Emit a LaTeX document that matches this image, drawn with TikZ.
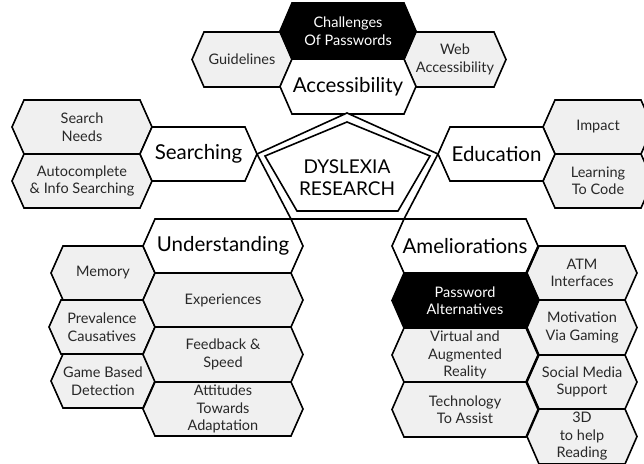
\documentclass[tikz,border=0pt]{standalone}
\usepackage{fontspec}
\setmainfont{Lato}
\definecolor{cellgray}{RGB}{240,240,240}
\definecolor{inkgray}{RGB}{40,40,40}
\tikzset{
  graycell/.style={draw=black, line width=1.6pt, fill=cellgray, line join=miter},
  whitecell/.style={draw=black, line width=1.6pt, fill=white, line join=miter},
  blackcell/.style={draw=black, line width=1.6pt, fill=black, line join=miter},
  smalltext/.style={inner sep=0pt, align=center, text=inkgray, font=\fontsize{14.5}{17.5}\selectfont},
  whitetext/.style={inner sep=0pt, align=center, text=white, font=\fontsize{14.5}{17.5}\selectfont},
  bigtext/.style={inner sep=0pt, align=center, text=black, font=\fontsize{20.5}{24}\selectfont},
}
% #1 name, #2 shape style, #3 text style, #4 xl, #5 xr, #6 ytop, #7 ybot, #8 text
\newcommand{\hexcell}[8]{%
  \pgfmathsetmacro\hxmid{(#6+#7)/2}%
  \pgfmathsetmacro\hxcen{(#4+#5)/2}%
  \draw[#2] (#4,\hxmid) -- (#4+12,#6) -- (#5-12,#6) -- (#5,\hxmid) -- (#5-12,#7) -- (#4+12,#7) -- cycle;
  \node[#3] (#1) at (\hxcen,\hxmid) {#8};
}
\begin{document}
\begin{tikzpicture}[x=1pt,y=-1pt]
\useasboundingbox (0,0) rectangle (644,463);
\begin{scope}
\clip (0,0) rectangle (644,463);
% Accessibility group
\hexcell{guide}{graycell}{smalltext}{192}{292}{32}{87}{Guidelines}
\hexcell{web}{graycell}{smalltext}{404}{506}{32}{87}{Web\\Accessibility}
\hexcell{access}{whitecell}{bigtext}{280}{416}{59}{114}{Accessibility}
\hexcell{chall}{blackcell}{whitetext}{280}{416}{3}{59}{Challenges\\Of Passwords}
% Searching group
\hexcell{needs}{graycell}{smalltext}{12}{152}{100}{154}{Search\\Needs}
\hexcell{auto}{graycell}{smalltext}{12}{152}{154}{208}{Autocomplete\\\& Info Searching}
\hexcell{search}{whitecell}{bigtext}{140}{257}{127}{181}{Searching}
% Education group
\hexcell{impact}{graycell}{smalltext}{543}{653}{100}{154}{Impact}
\hexcell{code}{graycell}{smalltext}{543}{653}{154}{208}{Learning\\To Code}
\hexcell{edu}{whitecell}{bigtext}{438}{555}{127}{181}{Education}
% Understanding group
\hexcell{memory}{graycell}{smalltext}{51}{155}{246}{300}{Memory}
\hexcell{preval}{graycell}{smalltext}{49}{155}{300}{354}{Prevalence\\Causatives}
\hexcell{game}{graycell}{smalltext}{51}{155}{354}{408}{Game Based\\Detection}
\hexcell{exper}{graycell}{smalltext}{143}{303}{273}{327}{Experiences}
\hexcell{feed}{graycell}{smalltext}{143}{303}{327}{382}{Feedback \&\\Speed}
\hexcell{attit}{graycell}{smalltext}{143}{303}{382}{436}{Attitudes\\Towards\\Adaptation}
\hexcell{under}{whitecell}{bigtext}{143}{303}{219}{273}{Understanding}
% Ameliorations group
\hexcell{atm}{graycell}{smalltext}{527}{637}{246}{300}{ATM\\Interfaces}
\hexcell{motiv}{graycell}{smalltext}{527}{637}{300}{355}{Motivation\\Via Gaming}
\hexcell{social}{graycell}{smalltext}{527}{637}{355}{409}{Social Media\\Support}
\hexcell{threed}{graycell}{smalltext}{527}{637}{409}{464}{3D\\to help\\Reading}
\hexcell{virt}{graycell}{smalltext}{392}{538}{328}{382}{Virtual and\\Augmented\\Reality}
\hexcell{tech}{graycell}{smalltext}{392}{538}{382}{437}{Technology\\To Assist}
\hexcell{amel}{whitecell}{bigtext}{392}{538}{219}{273}{Ameliorations}
\hexcell{pwalt}{blackcell}{whitetext}{392}{538}{273}{328}{Password\\Alternatives}
% Centre pentagon
\draw[whitecell] (347,113) -- (438,154) -- (404,219) -- (291,219) -- (257,154) -- cycle;
\draw[whitecell] (347,122) -- (430,156) -- (398,211) -- (297,211) -- (265,156) -- cycle;
\node[inner sep=0pt, align=center, font=\fontsize{19}{22}\selectfont] (core) at (347,178) {DYSLEXIA\\RESEARCH};
\end{scope}
\end{tikzpicture}
\end{document}
